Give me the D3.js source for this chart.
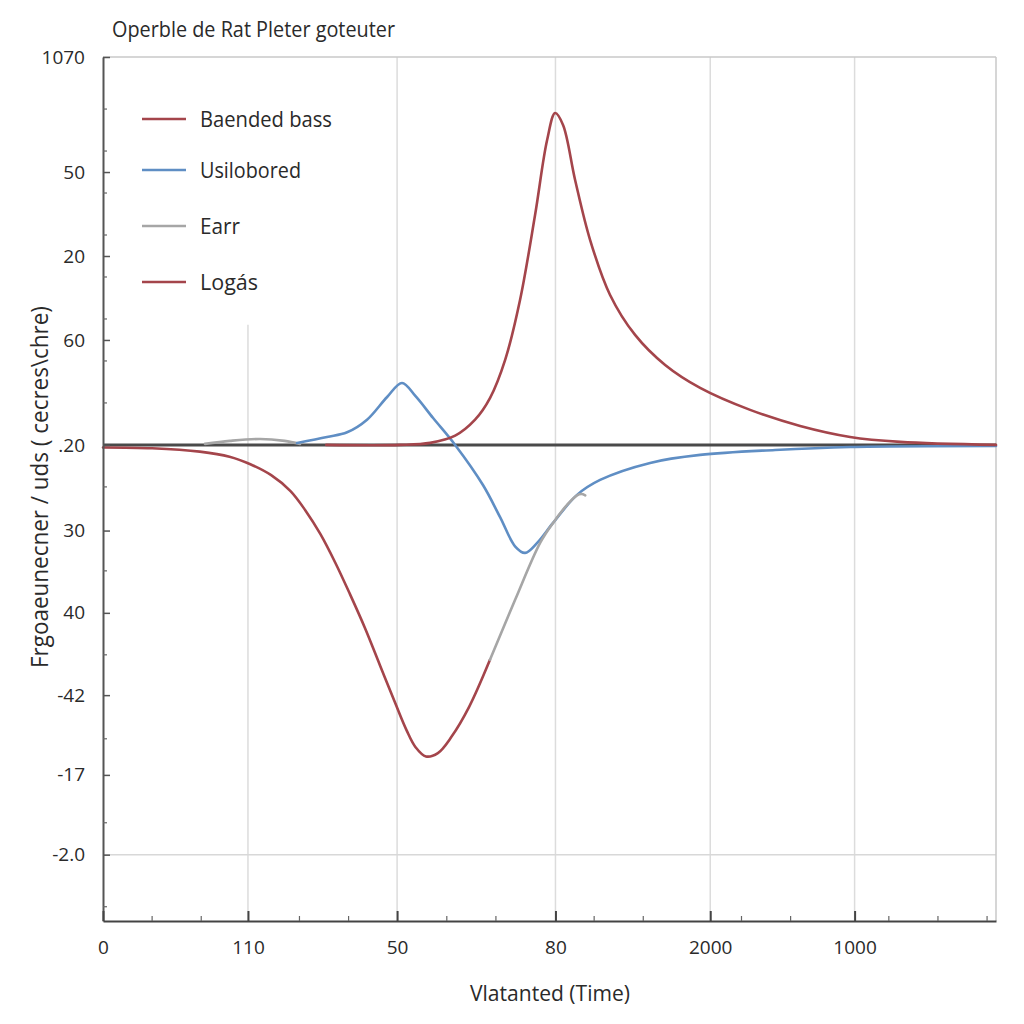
<!DOCTYPE html>
<html>
<head>
<meta charset="utf-8">
<script src="https://cdn.jsdelivr.net/npm/d3@7"></script>
<style>
  html, body { margin: 0; padding: 0; background: #ffffff; }
  svg { display: block; }
  text { font-family: "Open Sans", "Noto Sans", sans-serif; fill: #2a2a2a; }
</style>
</head>
<body>
<svg id="chart" width="1024" height="1024"></svg>
<script>
// ---------- data ----------
const titleText = "Operble de Rat Pleter goteuter";
const xTitle = "Vlatanted (Time)";
const yTitle = "Frgoaeunecner / uds ( cecres\\chre)";

const xTickVals   = [0, 0.974, 1.976, 3.04, 4.08, 5.05];
const xTickLabels = ["0", "110", "50", "80", "2000", "1000"];
const yTickVals   = [4.62, 3.25, 2.25, 1.25, 0, -1.02, -2.0, -2.98, -3.93, -4.88];
const yTickLabels = ["1070", "50", "20", "60", ".20", "30", "40", "-42", "-17", "-2.0"];

const seriesNames  = ["Baended bass", "Usilobored", "Earr", "Logás"];
const seriesColors = ["#a4454b", "#5f8ec4", "#a6a6a6", "#a4454b"];

// Baended bass (red peak)
const baendedBass = [
  [1.50, 0.0], [1.996, 0.0], [2.198, 0.024], [2.366, 0.11], [2.50, 0.30],
  [2.601, 0.56], [2.702, 1.012], [2.802, 1.726], [2.903, 2.738], [2.984, 3.631],
  [3.038, 3.952], [3.091, 3.81], [3.172, 3.155], [3.273, 2.44], [3.407, 1.786],
  [3.575, 1.31], [3.777, 0.952], [4.012, 0.679], [4.348, 0.417], [4.684, 0.226],
  [5.020, 0.095], [5.356, 0.036], [6.0, 0.0]
];
// Usilobored (blue)
const usilobored = [
  [1.304, 0.024], [1.505, 0.095], [1.640, 0.15], [1.774, 0.30], [1.909, 0.571],
  [2.009, 0.738], [2.100, 0.58], [2.218, 0.32], [2.366, 0.0], [2.554, -0.48],
  [2.668, -0.86], [2.770, -1.21], [2.836, -1.286], [2.917, -1.167], [3.024, -0.929],
  [3.185, -0.595], [3.340, -0.417], [3.676, -0.214], [4.012, -0.119], [4.516, -0.06],
  [5.020, -0.024], [6.0, -0.012]
];
// Earr (gray) - two pieces
const earrA = [
  [0.685, 0.012], [0.853, 0.048], [1.055, 0.071], [1.22, 0.048], [1.324, 0.012]
];
const earrB = [
  [2.60, -2.56], [2.769, -1.845], [2.937, -1.167], [3.024, -0.929], [3.118, -0.714],
  [3.185, -0.60], [3.215, -0.585], [3.24, -0.60]
];
// Logás (red dip)
const logas = [
  [0, -0.03], [0.33, -0.04], [0.65, -0.08], [0.85, -0.14], [0.99, -0.23],
  [1.13, -0.36], [1.26, -0.55], [1.36, -0.78], [1.46, -1.06], [1.56, -1.40],
  [1.66, -1.78], [1.76, -2.18], [1.86, -2.62], [1.96, -3.06], [2.04, -3.40],
  [2.10, -3.60], [2.17, -3.71], [2.25, -3.67], [2.34, -3.48], [2.46, -3.12],
  [2.60, -2.56]
];

// ---------- layout ----------
const svg = d3.select("#chart");
const L = 103, R = 996, T = 57, B = 921;

const x = d3.scaleLinear().domain([0, 6]).range([L, R]);
const y = d3.scaleLinear().domain([-5.67, 4.62]).range([B, T]);

// gridlines (vertical)
const grid = svg.append("g");
xTickVals.slice(1).forEach((v, i) => {
  grid.append("line")
    .attr("x1", x(v)).attr("x2", x(v))
    .attr("y1", i === 0 ? y(1.43) : T).attr("y2", B)
    .attr("stroke", "#dcdcdc").attr("stroke-width", 1.5);
});
// horizontal gridline at last y tick
grid.append("line")
  .attr("x1", L).attr("x2", R)
  .attr("y1", y(yTickVals[yTickVals.length - 1])).attr("y2", y(yTickVals[yTickVals.length - 1]))
  .attr("stroke", "#d8d8d8").attr("stroke-width", 1.5);

// frame top/right
svg.append("line").attr("x1", L).attr("x2", R).attr("y1", T).attr("y2", T)
  .attr("stroke", "#c8c8c8").attr("stroke-width", 1.5);
svg.append("line").attr("x1", R).attr("x2", R).attr("y1", T).attr("y2", B)
  .attr("stroke", "#c8c8c8").attr("stroke-width", 1.5);

// zero line
svg.append("line").attr("x1", L).attr("x2", R).attr("y1", y(0)).attr("y2", y(0))
  .attr("stroke", "#4a4a4a").attr("stroke-width", 3);

// curves
const line = d3.line().x(d => x(d[0])).y(d => y(d[1])).curve(d3.curveCatmullRom.alpha(0.5));
const curves = [
  [earrA, seriesColors[2]],
  [usilobored, seriesColors[1]],
  [baendedBass, seriesColors[0]],
  [logas, seriesColors[3]],
  [earrB, seriesColors[2]]
];
curves.forEach(([data, col]) => {
  svg.append("path").datum(data).attr("d", line)
    .attr("fill", "none").attr("stroke", col).attr("stroke-width", 2.6)
    .attr("stroke-linejoin", "round").attr("stroke-linecap", "round");
});

// axes
const yAxis = d3.axisLeft(y).tickValues(yTickVals)
  .tickFormat((d, i) => yTickLabels[i]).tickSizeInner(-7).tickSizeOuter(0).tickPadding(18);
const gy = svg.append("g").attr("transform", `translate(${L},0)`).call(yAxis);
gy.select(".domain").attr("stroke", "#555").attr("stroke-width", 2);
gy.selectAll(".tick line").attr("stroke", "#555").attr("stroke-width", 1.5);
gy.selectAll(".tick text").attr("font-size", 19).attr("font-family", "Open Sans, sans-serif").attr("fill", "#2a2a2a");

// y minor ticks
const yMinor = d3.range(-5.5, 4.6, 0.5).filter(v => !yTickVals.some(t => Math.abs(t - v) < 0.15));
svg.append("g").selectAll("line").data(yMinor).join("line")
  .attr("x1", L).attr("x2", L + 4).attr("y1", d => y(d)).attr("y2", d => y(d))
  .attr("stroke", "#666").attr("stroke-width", 1.2);

const xAxis = d3.axisBottom(x).tickValues(xTickVals)
  .tickFormat((d, i) => xTickLabels[i]).tickSizeInner(-10).tickSizeOuter(0).tickPadding(20);
const gx = svg.append("g").attr("transform", `translate(0,${B})`).call(xAxis);
gx.select(".domain").attr("stroke", "#444").attr("stroke-width", 2);
gx.selectAll(".tick line").attr("stroke", "#444").attr("stroke-width", 2);
gx.selectAll(".tick text").attr("font-size", 19).attr("font-family", "Open Sans, sans-serif").attr("fill", "#2a2a2a");

// x minor ticks
const xMinor = d3.range(0.33, 6, 0.33).filter(v => !xTickVals.some(t => Math.abs(t - v) < 0.12));
svg.append("g").selectAll("line").data(xMinor).join("line")
  .attr("x1", d => x(d)).attr("x2", d => x(d)).attr("y1", B).attr("y2", B - 5)
  .attr("stroke", "#666").attr("stroke-width", 1.2);

// title
svg.append("text").attr("x", 112).attr("y", 37).attr("font-size", 21)
  .attr("textLength", 283).attr("lengthAdjust", "spacingAndGlyphs")
  .text(titleText);

// axis titles
svg.append("text").attr("x", 550).attr("y", 1001).attr("text-anchor", "middle")
  .attr("font-size", 22).attr("textLength", 160).attr("lengthAdjust", "spacingAndGlyphs")
  .text(xTitle);
svg.append("text").attr("transform", "translate(48,487) rotate(-90)")
  .attr("text-anchor", "middle").attr("font-size", 23)
  .attr("textLength", 362).attr("lengthAdjust", "spacingAndGlyphs")
  .text(yTitle);

// legend
const legendY = [119, 170, 226, 282];
const legendW = [132, 101, 40, 58];
const lg = svg.append("g");
seriesNames.forEach((name, i) => {
  lg.append("line").attr("x1", 142).attr("x2", 186)
    .attr("y1", legendY[i]).attr("y2", legendY[i])
    .attr("stroke", seriesColors[i]).attr("stroke-width", 2.6);
  lg.append("text").attr("x", 200).attr("y", legendY[i] + 8).attr("font-size", 22)
    .attr("textLength", legendW[i]).attr("lengthAdjust", "spacingAndGlyphs")
    .text(name);
});
</script>
</body>
</html>
